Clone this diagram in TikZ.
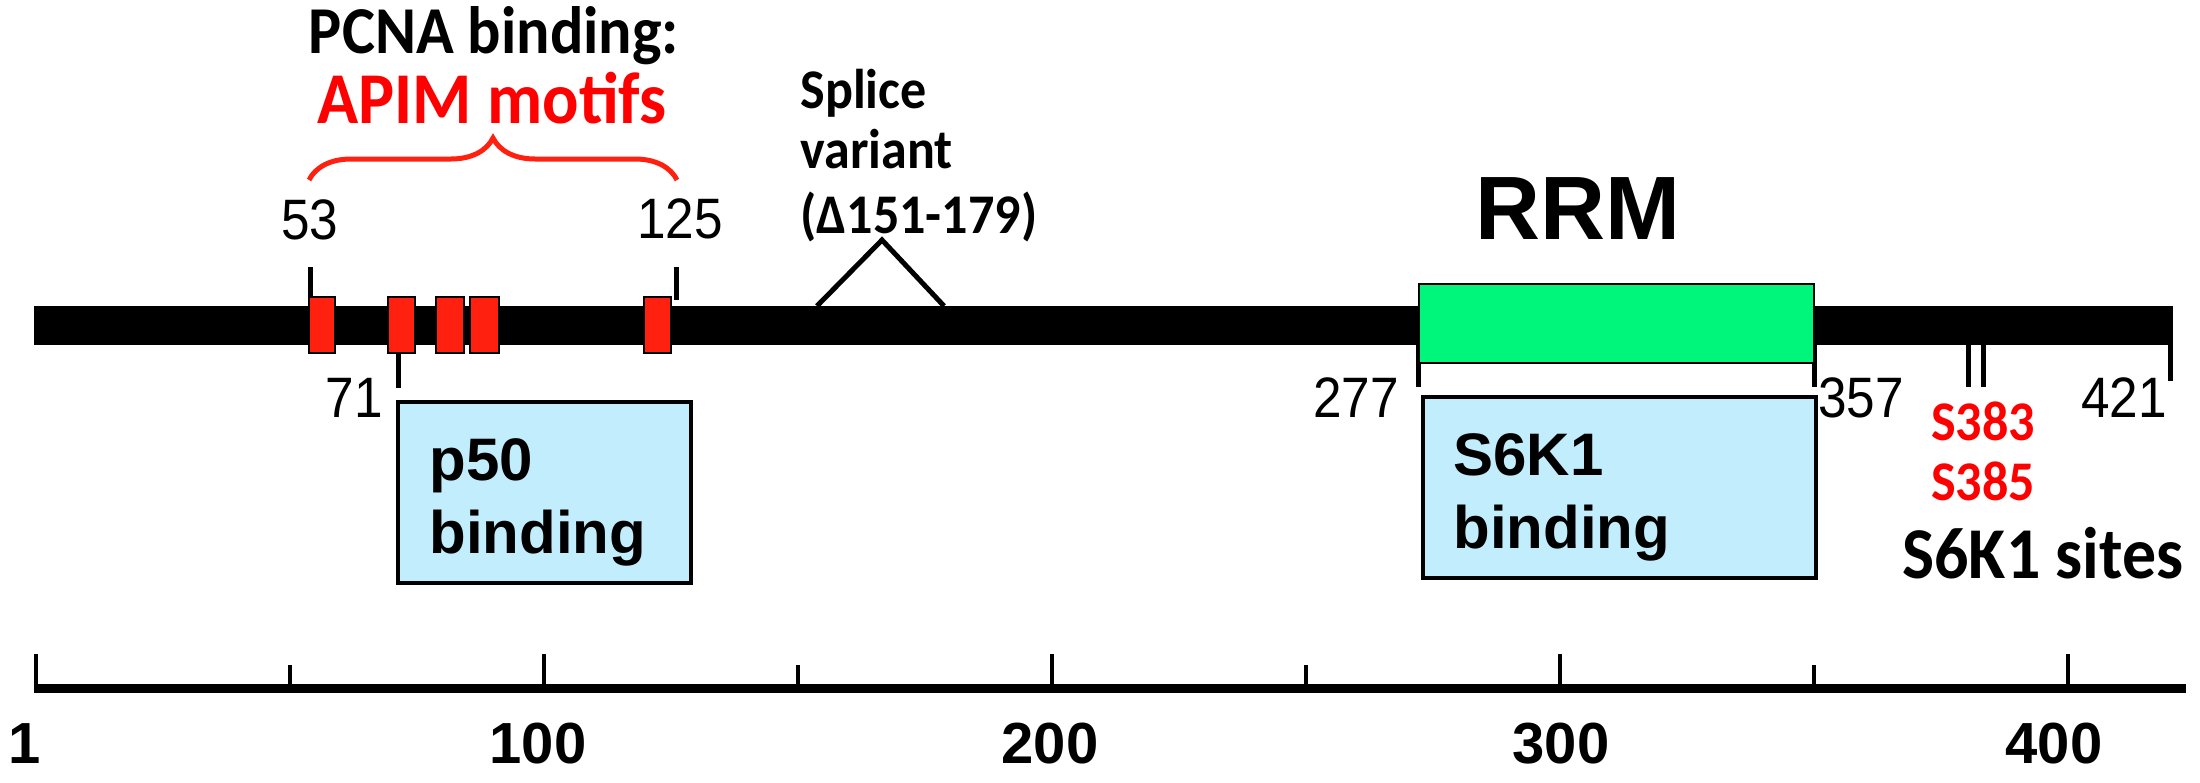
\documentclass[tikz,border=0pt]{standalone}
\usepackage{fontspec}
\setmainfont{Liberation Sans}
\newfontfamily\calib[FakeStretch=0.93]{Carlito}
\newfontfamily\narrowf[FakeStretch=0.9]{Liberation Sans}
\usetikzlibrary{decorations.pathreplacing}
\definecolor{motifred}{RGB}{255,32,16}
\definecolor{rrmgreen}{RGB}{0,246,122}
\definecolor{bindblue}{RGB}{194,237,253}
\definecolor{sitered}{RGB}{255,0,0}
\tikzset{
  tick/.style={line width=2.5pt},
  scaletick/.style={line width=2pt},
  motif/.style={fill=motifred,draw=black,line width=1pt},
  bindbox/.style={fill=bindblue,draw=black,line width=1.6pt},
  numlab/.style={inner sep=0pt,font=\narrowf\fontsize{28.5pt}{30pt}\selectfont},
  scalelab/.style={inner sep=0pt,anchor=base,font=\bfseries\fontsize{29pt}{31pt}\selectfont},
  bindtxt/.style={inner sep=0pt,anchor=base west,font=\bfseries\fontsize{30pt}{32pt}\selectfont},
  caltxt/.style={inner sep=0pt,font=\calib\bfseries\fontsize{28pt}{30pt}\selectfont},
}
\begin{document}
\begin{tikzpicture}[x=0.5pt,y=-0.5pt]
\useasboundingbox (0,0) rectangle (2200,782);

% main bar
\fill (34,306) rectangle (2173,345);

% ticks on the bar
\draw[tick] (310,267) -- (310,300);
\draw[tick] (676,267) -- (676,300);
\draw[tick] (398,352) -- (398,388);
\draw[tick] (1418,345) -- (1418,387);
\draw[tick] (1814,345) -- (1814,387);
\draw[tick] (1968,345) -- (1968,387);
\draw[tick] (1983,345) -- (1983,387);
\draw[tick] (2170,345) -- (2170,381);

% APIM motif boxes
\draw[motif] (309,297) rectangle (335,353);
\draw[motif] (388,297) rectangle (415,353);
\draw[motif] (436,297) rectangle (464,353);
\draw[motif] (470,297) rectangle (499,353);
\draw[motif] (644,297) rectangle (671,353);

% splice triangle
\draw[line width=2.5pt,line join=miter] (817,306) -- (882,240) -- (944,306);

% RRM box
\draw[fill=rrmgreen,draw=black,line width=1.4pt] (1419,284) rectangle (1814,363);

% brace
\draw[motifred,line width=2.5pt,decorate,decoration={brace,amplitude=21pt}] (309,180) -- (677,180);

% titles
\node[caltxt,anchor=base,font=\calib\bfseries\fontsize{33.5pt}{36pt}\selectfont] (pcna) at (494,53) {PCNA binding:};
\node[caltxt,anchor=base,text=sitered,font=\calib\bfseries\fontsize{36.5pt}{39pt}\selectfont] (apim) at (492,123) {APIM motifs};
\node[caltxt,anchor=base west] (splice1) at (800,108) {Splice};
\node[caltxt,anchor=base west] (splice2) at (800,168) {variant};
\node[caltxt,anchor=base west] (splice3) at (800,233) {(Δ151-179)};
\node[inner sep=0pt,anchor=base,font=\bfseries\fontsize{45pt}{47pt}\selectfont] (rrm) at (1578,239) {RRM};

% numbers
\node[numlab,anchor=base] (n53) at (310,239) {53};
\node[numlab,anchor=base] (n125) at (680,238) {125};
\node[numlab,anchor=base east] (n71) at (383,417) {71};
\node[numlab,anchor=base east] (n277) at (1399,417) {277};
\node[numlab,anchor=base west] (n357) at (1818,417) {357};
\node[numlab,anchor=base east] (n421) at (2167,417) {421};

% binding boxes
\draw[bindbox] (398,402) rectangle (691,583);
\node[bindtxt] (p50a) at (429,480) {p50};
\node[bindtxt] (p50b) at (429,553) {binding};
\draw[bindbox] (1423,397) rectangle (1816,578);
\node[bindtxt] (s6a) at (1453,475) {S6K1};
\node[bindtxt] (s6b) at (1453,548) {binding};

% S6K1 sites
\node[caltxt,anchor=base,text=sitered] (s383) at (1983,440) {S383};
\node[caltxt,anchor=base,text=sitered] (s385) at (1983,500) {S385};
\node[caltxt,anchor=base west,font=\calib\bfseries\fontsize{36.5pt}{38pt}\selectfont] (sites) at (1902,578) {S6K1 sites};

% scale bar
\draw[line width=4.5pt] (34,688) -- (2186,688);
\foreach \x in {36,544,1052,1560,2068} \draw[scaletick] (\x,654) -- (\x,688);
\foreach \x in {290,798,1306,1814} \draw[scaletick] (\x,665) -- (\x,688);
\node[scalelab] (s1) at (25,763) {1};
\node[scalelab] (s100) at (538,763) {100};
\node[scalelab] (s200) at (1050,763) {200};
\node[scalelab] (s300) at (1561,763) {300};
\node[scalelab] (s400) at (2054,763) {400};
\end{tikzpicture}
\end{document}
